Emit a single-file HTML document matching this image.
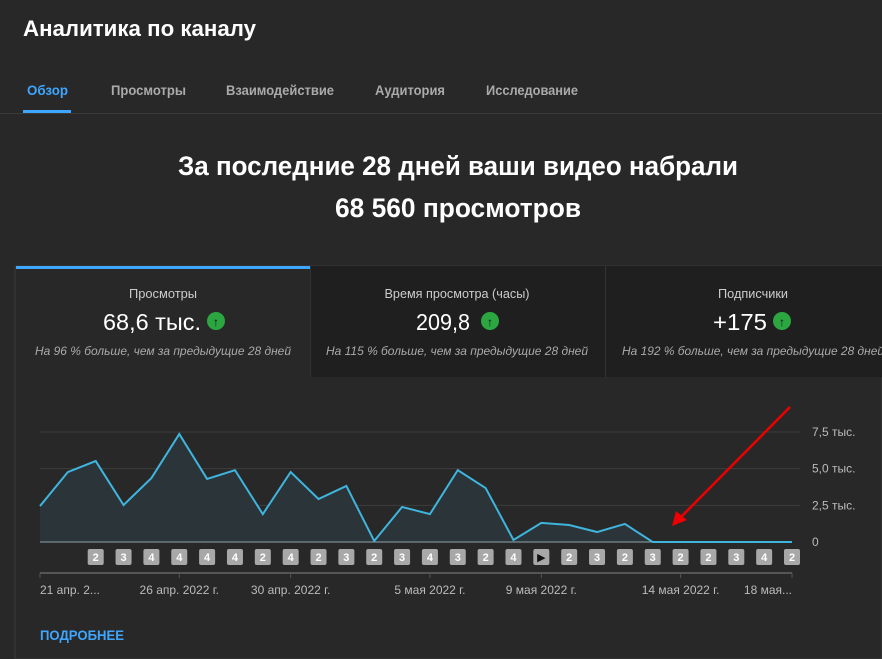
<!DOCTYPE html>
<html><head><meta charset="utf-8"><style>
html,body{margin:0;padding:0;background:#282828;width:882px;height:659px;overflow:hidden}
svg{display:block}
text{font-family:"Liberation Sans","DejaVu Sans",sans-serif}
</style></head><body>
<svg id="page" width="882" height="659" viewBox="0 0 882 659">
<rect x="0" y="0" width="882" height="659" fill="#282828"/>
<text x="23" y="36" fill="#fff" font-size="22" font-weight="bold" textLength="233" lengthAdjust="spacingAndGlyphs">Аналитика по каналу</text>
<g font-size="14" font-weight="bold">
<text x="27" y="95" fill="#3ea6ff" textLength="41" lengthAdjust="spacingAndGlyphs">Обзор</text>
<text x="111" y="95" fill="#aaa" textLength="75" lengthAdjust="spacingAndGlyphs">Просмотры</text>
<text x="226" y="95" fill="#aaa" textLength="108" lengthAdjust="spacingAndGlyphs">Взаимодействие</text>
<text x="375" y="95" fill="#aaa" textLength="70" lengthAdjust="spacingAndGlyphs">Аудитория</text>
<text x="486" y="95" fill="#aaa" textLength="92" lengthAdjust="spacingAndGlyphs">Исследование</text>
</g>
<rect x="23" y="110" width="48" height="3" fill="#3ea6ff"/>
<rect x="0" y="113" width="882" height="1" fill="#3a3a3a"/>
<g font-size="27" font-weight="bold" fill="#fff" text-anchor="middle">
<text x="458" y="175" textLength="560" lengthAdjust="spacingAndGlyphs">За последние 28 дней ваши видео набрали</text>
<text x="458" y="217" textLength="246" lengthAdjust="spacingAndGlyphs">68 560 просмотров</text>
</g>
<!-- panel -->
<rect x="15" y="266" width="867" height="393" fill="#282828" stroke="#3a3a3a"/>
<rect x="310" y="266" width="572" height="111" fill="#1f1f1f"/>
<rect x="310" y="266" width="1" height="111" fill="#333"/>
<rect x="605" y="266" width="1" height="111" fill="#333"/>
<rect x="16" y="266" width="294" height="3" fill="#3ea6ff"/>
<g>
<text x="163" y="298" fill="#ccc" font-size="13" text-anchor="middle" textLength="68" lengthAdjust="spacingAndGlyphs">Просмотры</text>
<text x="152" y="330" fill="#fff" font-size="23" text-anchor="middle" textLength="98" lengthAdjust="spacingAndGlyphs">68,6 тыс.</text>
<circle cx="216" cy="321" r="9" fill="#2ba640"/><text x="216" y="326" fill="#111" font-size="12" font-weight="bold" text-anchor="middle">↑</text>
<text x="163" y="355" fill="#aaa" font-size="12" font-style="italic" text-anchor="middle" textLength="256" lengthAdjust="spacingAndGlyphs">На 96 % больше, чем за предыдущие 28 дней</text>
</g>
<g>
<text x="457" y="298" fill="#ccc" font-size="13" text-anchor="middle" textLength="145" lengthAdjust="spacingAndGlyphs">Время просмотра (часы)</text>
<text x="443" y="330" fill="#fff" font-size="23" text-anchor="middle" textLength="54" lengthAdjust="spacingAndGlyphs">209,8</text>
<circle cx="490" cy="321" r="9" fill="#2ba640"/><text x="490" y="326" fill="#111" font-size="12" font-weight="bold" text-anchor="middle">↑</text>
<text x="457" y="355" fill="#aaa" font-size="12" font-style="italic" text-anchor="middle" textLength="262" lengthAdjust="spacingAndGlyphs">На 115 % больше, чем за предыдущие 28 дней</text>
</g>
<g>
<text x="753" y="298" fill="#ccc" font-size="13" text-anchor="middle" textLength="70" lengthAdjust="spacingAndGlyphs">Подписчики</text>
<text x="740" y="330" fill="#fff" font-size="23" text-anchor="middle" textLength="54" lengthAdjust="spacingAndGlyphs">+175</text>
<circle cx="782" cy="321" r="9" fill="#2ba640"/><text x="782" y="326" fill="#111" font-size="12" font-weight="bold" text-anchor="middle">↑</text>
<text x="622" y="355" fill="#aaa" font-size="12" font-style="italic" textLength="262" lengthAdjust="spacingAndGlyphs">На 192 % больше, чем за предыдущие 28 дней</text>
</g>
<g id="chart"></g>
<line x1="790" y1="407" x2="678" y2="520" stroke="#e00" stroke-width="2.5"/>
<polygon points="672,526 676,511 687,520" fill="#e00"/>
<text x="40" y="640" fill="#3ea6ff" font-size="14" font-weight="bold" textLength="84" lengthAdjust="spacingAndGlyphs">ПОДРОБНЕЕ</text>
</svg>
<script>
const values=[2450,4770,5520,2520,4360,7360,4300,4900,1900,4770,2930,3820,70,2390,1900,4900,3680,140,1300,1160,680,1230,0,0,0,0,0,0];
const badges=['2','3','4','4','4','4','2','4','2','3','2','3','4','3','2','4','▶','2','3','2','3','2','2','3','4','2'];
const yTicks=[0,2500,5000,7500];
const yTickLabels=['0','2,5 тыс.','5,0 тыс.','7,5 тыс.'];
const xLabels=['21 апр. 2...','26 апр. 2022 г.','30 апр. 2022 г.','5 мая 2022 г.','9 мая 2022 г.','14 мая 2022 г.','18 мая...'];
const xLabelIdx=[0,5,9,14,18,23,27];
const NS='http://www.w3.org/2000/svg';
const g=document.getElementById('chart');
const x0=40,x1=792,yBase=542;
const xs=i=>x0+i*(x1-x0)/(values.length-1);
const ys=v=>yBase-v*110/7500;
function mk(t,a,p){const e=document.createElementNS(NS,t);for(const k in a)e.setAttribute(k,a[k]);(p||g).appendChild(e);return e;}
yTicks.forEach((v,i)=>{
  if(v>0){const l=mk('line',{x1:x0,x2:x1+8,y1:ys(v),y2:ys(v),stroke:'#3d3d3d'});
  
  }
  const t=mk('text',{x:812,y:ys(v)+4,fill:'#bbb','font-size':12});
  t.textContent=yTickLabels[i];
  
  
});
let d='M'+xs(0)+','+yBase;
values.forEach((v,i)=>{d+=' L'+xs(i)+','+ys(v);});
const area=mk('path',{d:d+' L'+xs(values.length-1)+','+yBase+' Z',fill:'#2a3439'});


const base=mk('line',{x1:x0,x2:x1,y1:yBase,y2:yBase,stroke:'#8fa3ad'});


const line=mk('path',{d:'M'+values.map((v,i)=>xs(i)+','+ys(v)).join(' L'),fill:'none',stroke:'#3fb5de','stroke-width':2,'stroke-linejoin':'miter'});


badges.forEach((b,i)=>{
  const cx=xs(i+2);
  const r=mk('rect',{x:cx-8,y:549,width:16,height:16,rx:2,fill:'#a8a8a8'});
  
  
  const t=mk('text',{x:cx,y:561,fill:b==='▶'?'#111':'#fff','font-size':11,'font-weight':'bold','text-anchor':'middle'});
  t.textContent=b;
  
  
});
const ax=mk('line',{x1:x0,x2:x1,y1:573,y2:573,stroke:'#555','stroke-width':2});


xLabelIdx.forEach((idx,i)=>{
  const x=xs(idx);
  const tk=mk('line',{x1:x,x2:x,y1:573,y2:578,stroke:'#555'});
  
  
  const anchor=i===0?'start':(i===xLabels.length-1?'end':'middle');
  const t=mk('text',{x:x,y:594,fill:'#bbb','font-size':12,'text-anchor':anchor});
  t.textContent=xLabels[i];
  
  
});
</script>
</body></html>
